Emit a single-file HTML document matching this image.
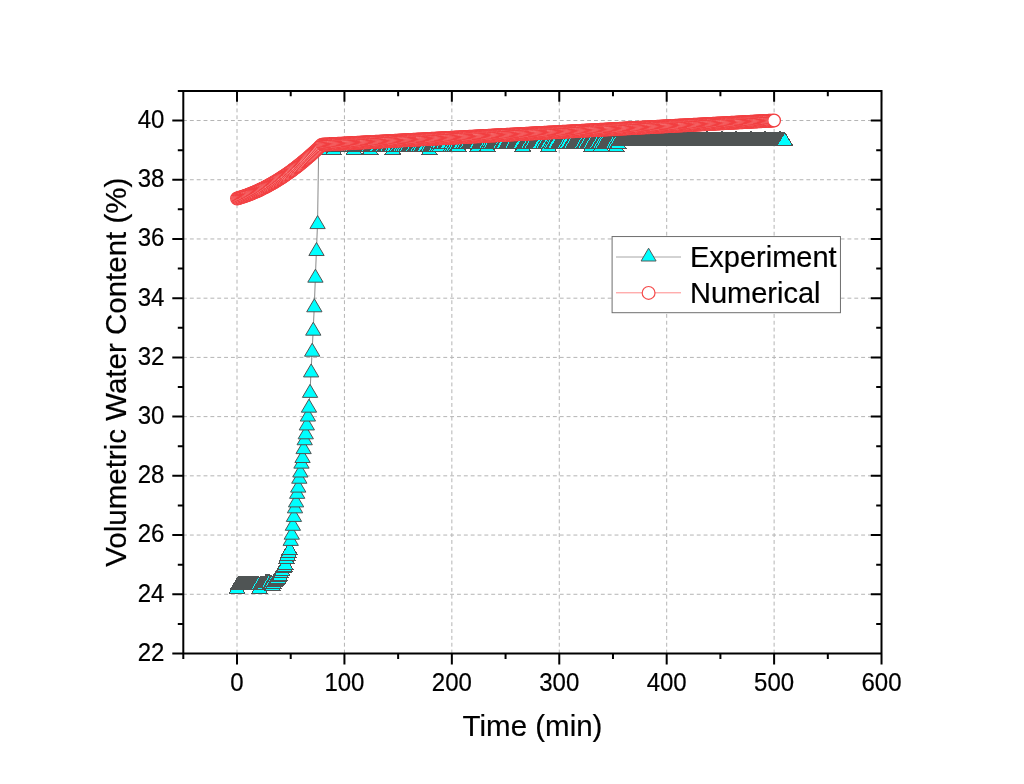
<!DOCTYPE html><html><head><meta charset="utf-8"><style>html,body{margin:0;padding:0;background:#fff;overflow:hidden}svg{display:block;will-change:transform}text{font-family:"Liberation Sans",sans-serif;fill:#000;stroke:#000;stroke-width:0.2px}</style></head><body>
<svg width="1024" height="784" viewBox="0 0 1024 784">
<rect width="1024" height="784" fill="#fff"/>
<path d="M237.01 653.5V92M344.43 653.5V92M451.85 653.5V92M559.27 653.5V92M666.69 653.5V92M774.11 653.5V92" stroke="#b4b4b4" stroke-width="1" stroke-dasharray="3.9 2.95" fill="none"/>
<path d="M183 594.28H881M183 535.06H881M183 475.84H881M183 416.62H881M183 357.4H881M183 298.18H881M183 238.96H881M183 179.74H881M183 120.52H881" stroke="#b4b4b4" stroke-width="1" stroke-dasharray="3.9 2.95" fill="none"/>
<polyline points="237.01,586.58 238.08,583.03 239.16,583.03 240.23,583.03 241.31,583.03 242.38,583.03 243.46,583.03 244.53,583.03 245.6,583.03 246.68,583.03 247.75,583.03 248.83,583.03 249.9,583.03 250.97,583.03 252.05,583.03 253.12,583.03 254.2,583.03 255.27,583.03 256.35,583.03 257.42,583.03 258.49,583.03 259.57,586.58 260.64,583.03 261.72,583.03 262.79,583.03 263.87,583.03 264.94,583.03 266.01,580.66 267.09,580.66 268.16,580.66 269.24,580.66 270.31,582.44 271.38,582.44 272.46,583.62 273.53,581.84 274.61,580.07 275.68,578.88 276.76,577.7 277.83,576.51 278.9,575.33 279.98,574.44 281.05,571.48 282.13,568.82 283.2,565.85 284.27,564.67 285.35,562.89 286.42,556.68 287.5,553.71 288.57,550.75 289.65,548.09 290.72,538.91 291.79,532.69 292.87,523.81 293.94,514.93 295.02,506.34 296.09,500.42 297.17,491.83 298.24,485.61 299.31,476.73 300.39,470.51 301.46,461.63 302.54,456 303.61,447.12 304.68,438.24 305.76,432.31 306.83,423.43 307.91,414.55 308.98,405.66 310.06,390.86 311.13,370.43 312.2,349.7 313.28,328.68 314.35,305.29 315.43,275.68 316.5,249.03 317.58,222.08 318.65,147.79 319.72,147.79 320.8,147.79 321.87,144.68 322.95,144.68 324.02,144.68 325.09,144.68 326.17,144.68 327.24,144.68 328.32,144.68 329.39,144.68 331.54,144.68 332.61,144.68 333.69,147.79 335.84,144.68 337.98,144.68 339.06,144.68 341.21,144.68 342.28,144.68 343.36,144.68 344.43,144.68 347.65,144.68 350.88,144.68 353.02,144.68 354.1,147.79 355.17,144.68 356.25,144.68 357.32,144.68 358.39,144.68 359.47,144.68 360.54,144.68 361.62,144.68 362.69,144.68 363.77,144.68 364.84,144.68 365.91,144.68 366.99,144.68 368.06,144.68 369.14,144.68 370.21,147.79 371.29,144.68 372.36,144.68 373.43,144.68 374.51,144.68 375.58,144.68 376.66,144.68 379.88,144.68 380.95,144.68 382.03,144.68 383.1,144.68 385.25,144.68 386.32,144.68 387.4,144.68 389.55,144.68 390.62,144.68 391.69,144.68 392.77,147.79 393.84,144.68 397.07,144.68 399.21,144.68 400.29,144.68 402.44,144.68 404.59,144.68 406.73,144.68 408.88,144.68 409.96,144.68 411.03,144.68 412.1,144.68 413.18,144.68 415.33,144.68 416.4,144.68 417.48,144.68 419.62,144.68 421.77,144.68 422.85,144.68 423.92,144.68 425,144.68 428.22,144.68 429.29,147.79 430.37,144.68 431.44,144.68 432.51,144.68 433.59,144.68 434.66,144.68 435.74,144.68 437.89,144.68 438.96,142.08 440.03,144.68 442.18,142.08 443.26,142.08 445.4,142.08 446.48,142.08 447.55,142.08 450.78,144.68 451.85,142.08 452.92,144.68 455.07,144.68 457.22,144.68 458.3,144.68 459.37,142.08 460.44,142.08 463.67,142.08 465.81,142.08 466.89,142.08 469.04,142.08 470.11,142.08 471.19,142.08 472.26,142.08 473.33,142.08 474.41,142.08 475.48,142.08 476.56,142.08 477.63,144.68 479.78,142.08 480.85,142.08 481.93,142.08 483,142.08 484.08,142.08 485.15,142.08 486.22,142.08 487.3,144.68 488.37,142.08 490.52,142.08 492.67,142.08 493.74,142.08 494.82,142.08 495.89,142.08 496.97,142.08 498.04,142.08 499.11,142.08 500.19,142.08 502.34,142.08 503.41,142.08 506.63,142.08 507.71,142.08 508.78,142.08 509.86,142.08 510.93,142.08 512.01,142.08 514.15,142.08 515.23,142.08 516.3,142.08 517.38,142.08 518.45,142.08 519.52,142.08 520.6,142.08 522.75,144.68 523.82,142.08 524.9,142.08 525.97,142.08 527.04,142.08 528.12,142.08 530.27,142.08 531.34,142.08 533.49,142.08 534.56,142.08 535.64,142.08 536.71,142.08 537.79,142.08 538.86,142.08 539.93,142.08 543.16,142.08 545.31,142.08 546.38,142.08 547.45,142.08 548.53,144.68 551.75,142.08 553.9,142.08 554.97,142.08 558.2,142.08 559.27,142.08 560.34,142.08 561.42,142.08 562.49,142.08 563.57,142.08 564.64,142.08 566.79,142.08 570.01,142.08 571.09,142.08 573.23,142.08 574.31,142.08 575.38,142.08 576.46,142.08 577.53,142.08 578.61,142.08 579.68,142.08 580.75,142.08 581.83,142.08 583.98,142.08 585.05,142.08 587.2,142.08 588.27,142.08 589.35,142.08 590.42,142.08 591.5,144.68 592.57,142.08 593.64,142.08 594.72,142.08 595.79,142.08 596.87,142.08 599.02,142.08 600.09,142.08 601.16,144.68 602.24,142.08 604.39,142.08 605.46,142.08 606.53,142.08 607.61,142.08 608.68,142.08 609.76,142.08 610.83,142.08 611.91,142.08 612.98,142.08 615.13,142.08 616.2,144.68 617.28,142.08 618.35,142.08 619.43,138.88 620.5,138.88 621.57,138.88 622.65,138.88 623.72,138.88 624.8,138.88 625.87,138.88 626.94,138.88 628.02,138.88 629.09,138.88 630.17,138.88 631.24,138.88 632.32,138.88 633.39,138.88 634.46,138.88 635.54,138.88 636.61,138.88 637.69,138.88 638.76,138.88 639.84,138.88 640.91,138.88 641.98,138.88 643.06,138.88 644.13,138.88 645.21,138.88 646.28,138.88 647.35,138.88 648.43,138.88 649.5,138.88 650.58,138.88 651.65,138.88 652.73,138.88 653.8,138.88 654.87,138.88 655.95,138.88 657.02,138.88 658.1,138.88 659.17,138.88 660.24,138.88 661.32,138.88 662.39,138.88 663.47,138.88 664.54,138.88 665.62,138.88 666.69,138.88 667.76,138.88 668.84,138.88 669.91,138.88 670.99,138.88 672.06,138.88 673.14,138.88 674.21,138.88 675.28,138.88 676.36,138.88 677.43,138.88 678.51,138.88 679.58,138.88 680.65,138.88 681.73,138.88 682.8,138.88 683.88,138.88 684.95,138.88 686.03,138.88 687.1,138.88 688.17,138.88 689.25,138.88 690.32,138.88 691.4,138.88 692.47,138.88 693.55,138.88 694.62,138.88 695.69,138.88 696.77,138.88 697.84,138.88 698.92,138.88 699.99,138.88 701.06,138.88 702.14,138.88 703.21,138.88 704.29,138.88 705.36,138.88 706.44,138.88 707.51,138.88 708.58,138.88 709.66,138.88 710.73,138.88 711.81,138.88 712.88,138.88 713.95,138.88 715.03,138.88 716.1,138.88 717.18,138.88 718.25,138.88 719.33,138.88 720.4,138.88 721.47,138.88 722.55,138.88 723.62,138.88 724.7,138.88 725.77,138.88 726.85,138.88 727.92,138.88 728.99,138.88 730.07,138.88 731.14,138.88 732.22,138.88 733.29,138.88 734.36,138.88 735.44,138.88 736.51,138.88 737.59,138.88 738.66,138.88 739.74,138.88 740.81,138.88 741.88,138.88 742.96,138.88 744.03,138.88 745.11,138.88 746.18,138.88 747.26,138.88 748.33,138.88 749.4,138.88 750.48,138.88 751.55,138.88 752.63,138.88 753.7,138.88 754.77,138.88 755.85,138.88 756.92,138.88 758,138.88 759.07,138.88 760.15,138.88 761.22,138.88 762.29,138.88 763.37,138.88 764.44,138.88 765.52,138.88 766.59,138.88 767.66,138.88 768.74,138.88 769.81,138.88 770.89,138.88 771.96,138.88 773.04,138.88 774.11,138.88 775.18,138.88 776.26,138.88 777.33,138.88 778.41,138.88 779.48,138.88 780.56,138.88 781.63,138.88 782.7,138.88 783.78,138.88 784.85,138.88" fill="none" stroke="#7c7c7c" stroke-width="0.9"/>
<g fill="#00ffff" stroke="#4f5454" stroke-width="1" shape-rendering="crispEdges"><path d="M237.01 580.08L244.66 593.08L229.36 593.08Z"/><path d="M238.08 576.53L245.73 589.53L230.43 589.53Z"/><path d="M239.16 576.53L246.81 589.53L231.51 589.53Z"/><path d="M240.23 576.53L247.88 589.53L232.58 589.53Z"/><path d="M241.31 576.53L248.96 589.53L233.66 589.53Z"/><path d="M242.38 576.53L250.03 589.53L234.73 589.53Z"/><path d="M243.46 576.53L251.11 589.53L235.81 589.53Z"/><path d="M244.53 576.53L252.18 589.53L236.88 589.53Z"/><path d="M245.6 576.53L253.25 589.53L237.95 589.53Z"/><path d="M246.68 576.53L254.33 589.53L239.03 589.53Z"/><path d="M247.75 576.53L255.4 589.53L240.1 589.53Z"/><path d="M248.83 576.53L256.48 589.53L241.18 589.53Z"/><path d="M249.9 576.53L257.55 589.53L242.25 589.53Z"/><path d="M250.97 576.53L258.62 589.53L243.32 589.53Z"/><path d="M252.05 576.53L259.7 589.53L244.4 589.53Z"/><path d="M253.12 576.53L260.77 589.53L245.47 589.53Z"/><path d="M254.2 576.53L261.85 589.53L246.55 589.53Z"/><path d="M255.27 576.53L262.92 589.53L247.62 589.53Z"/><path d="M256.35 576.53L264 589.53L248.7 589.53Z"/><path d="M257.42 576.53L265.07 589.53L249.77 589.53Z"/><path d="M258.49 576.53L266.14 589.53L250.84 589.53Z"/><path d="M259.57 580.08L267.22 593.08L251.92 593.08Z"/><path d="M260.64 576.53L268.29 589.53L252.99 589.53Z"/><path d="M261.72 576.53L269.37 589.53L254.07 589.53Z"/><path d="M262.79 576.53L270.44 589.53L255.14 589.53Z"/><path d="M263.87 576.53L271.51 589.53L256.22 589.53Z"/><path d="M264.94 576.53L272.59 589.53L257.29 589.53Z"/><path d="M266.01 574.16L273.66 587.16L258.36 587.16Z"/><path d="M267.09 574.16L274.74 587.16L259.44 587.16Z"/><path d="M268.16 574.16L275.81 587.16L260.51 587.16Z"/><path d="M269.24 574.16L276.89 587.16L261.59 587.16Z"/><path d="M270.31 575.94L277.96 588.94L262.66 588.94Z"/><path d="M271.38 575.94L279.03 588.94L263.73 588.94Z"/><path d="M272.46 577.12L280.11 590.12L264.81 590.12Z"/><path d="M273.53 575.34L281.18 588.34L265.88 588.34Z"/><path d="M274.61 573.57L282.26 586.57L266.96 586.57Z"/><path d="M275.68 572.38L283.33 585.38L268.03 585.38Z"/><path d="M276.76 571.2L284.41 584.2L269.11 584.2Z"/><path d="M277.83 570.01L285.48 583.01L270.18 583.01Z"/><path d="M278.9 568.83L286.55 581.83L271.25 581.83Z"/><path d="M279.98 567.94L287.63 580.94L272.33 580.94Z"/><path d="M281.05 564.98L288.7 577.98L273.4 577.98Z"/><path d="M282.13 562.32L289.78 575.32L274.48 575.32Z"/><path d="M283.2 559.35L290.85 572.35L275.55 572.35Z"/><path d="M284.27 558.17L291.92 571.17L276.62 571.17Z"/><path d="M285.35 556.39L293 569.39L277.7 569.39Z"/><path d="M286.42 550.18L294.07 563.18L278.77 563.18Z"/><path d="M287.5 547.21L295.15 560.21L279.85 560.21Z"/><path d="M288.57 544.25L296.22 557.25L280.92 557.25Z"/><path d="M289.65 541.59L297.3 554.59L282 554.59Z"/></g>
<g fill="#00ffff" stroke="#4f5454" stroke-width="1"><path d="M290.72 532.41L298.37 545.41L283.07 545.41Z"/><path d="M291.79 526.19L299.44 539.19L284.14 539.19Z"/><path d="M292.87 517.31L300.52 530.31L285.22 530.31Z"/><path d="M293.94 508.43L301.59 521.43L286.29 521.43Z"/><path d="M295.02 499.84L302.67 512.84L287.37 512.84Z"/><path d="M296.09 493.92L303.74 506.92L288.44 506.92Z"/><path d="M297.17 485.33L304.82 498.33L289.52 498.33Z"/><path d="M298.24 479.11L305.89 492.11L290.59 492.11Z"/><path d="M299.31 470.23L306.96 483.23L291.66 483.23Z"/><path d="M300.39 464.01L308.04 477.01L292.74 477.01Z"/><path d="M301.46 455.13L309.11 468.13L293.81 468.13Z"/><path d="M302.54 449.5L310.19 462.5L294.89 462.5Z"/><path d="M303.61 440.62L311.26 453.62L295.96 453.62Z"/><path d="M304.68 431.74L312.33 444.74L297.03 444.74Z"/><path d="M305.76 425.81L313.41 438.81L298.11 438.81Z"/><path d="M306.83 416.93L314.48 429.93L299.18 429.93Z"/><path d="M307.91 408.05L315.56 421.05L300.26 421.05Z"/><path d="M308.98 399.16L316.63 412.16L301.33 412.16Z"/><path d="M310.06 384.36L317.71 397.36L302.41 397.36Z"/><path d="M311.13 363.93L318.78 376.93L303.48 376.93Z"/><path d="M312.2 343.2L319.85 356.2L304.55 356.2Z"/><path d="M313.28 322.18L320.93 335.18L305.63 335.18Z"/><path d="M314.35 298.79L322 311.79L306.7 311.79Z"/><path d="M315.43 269.18L323.08 282.18L307.78 282.18Z"/><path d="M316.5 242.53L324.15 255.53L308.85 255.53Z"/><path d="M317.58 215.58L325.23 228.58L309.93 228.58Z"/></g>
<g fill="#00ffff" stroke="#4f5454" stroke-width="1" shape-rendering="crispEdges"><path d="M318.65 141.29L326.3 154.29L311 154.29Z"/><path d="M319.72 141.29L327.37 154.29L312.07 154.29Z"/><path d="M320.8 141.29L328.45 154.29L313.15 154.29Z"/><path d="M321.87 138.18L329.52 151.18L314.22 151.18Z"/><path d="M322.95 138.18L330.6 151.18L315.3 151.18Z"/><path d="M324.02 138.18L331.67 151.18L316.37 151.18Z"/><path d="M325.09 138.18L332.74 151.18L317.44 151.18Z"/><path d="M326.17 138.18L333.82 151.18L318.52 151.18Z"/><path d="M327.24 138.18L334.89 151.18L319.59 151.18Z"/><path d="M328.32 138.18L335.97 151.18L320.67 151.18Z"/><path d="M329.39 138.18L337.04 151.18L321.74 151.18Z"/><path d="M331.54 138.18L339.19 151.18L323.89 151.18Z"/><path d="M332.61 138.18L340.26 151.18L324.96 151.18Z"/><path d="M333.69 141.29L341.34 154.29L326.04 154.29Z"/><path d="M335.84 138.18L343.49 151.18L328.19 151.18Z"/><path d="M337.98 138.18L345.63 151.18L330.33 151.18Z"/><path d="M339.06 138.18L346.71 151.18L331.41 151.18Z"/><path d="M341.21 138.18L348.86 151.18L333.56 151.18Z"/><path d="M342.28 138.18L349.93 151.18L334.63 151.18Z"/><path d="M343.36 138.18L351.01 151.18L335.71 151.18Z"/><path d="M344.43 138.18L352.08 151.18L336.78 151.18Z"/><path d="M347.65 138.18L355.3 151.18L340 151.18Z"/><path d="M350.88 138.18L358.53 151.18L343.23 151.18Z"/><path d="M353.02 138.18L360.67 151.18L345.37 151.18Z"/><path d="M354.1 141.29L361.75 154.29L346.45 154.29Z"/><path d="M355.17 138.18L362.82 151.18L347.52 151.18Z"/><path d="M356.25 138.18L363.9 151.18L348.6 151.18Z"/><path d="M357.32 138.18L364.97 151.18L349.67 151.18Z"/><path d="M358.39 138.18L366.04 151.18L350.74 151.18Z"/><path d="M359.47 138.18L367.12 151.18L351.82 151.18Z"/><path d="M360.54 138.18L368.19 151.18L352.89 151.18Z"/><path d="M361.62 138.18L369.27 151.18L353.97 151.18Z"/><path d="M362.69 138.18L370.34 151.18L355.04 151.18Z"/><path d="M363.77 138.18L371.42 151.18L356.12 151.18Z"/><path d="M364.84 138.18L372.49 151.18L357.19 151.18Z"/><path d="M365.91 138.18L373.56 151.18L358.26 151.18Z"/><path d="M366.99 138.18L374.64 151.18L359.34 151.18Z"/><path d="M368.06 138.18L375.71 151.18L360.41 151.18Z"/><path d="M369.14 138.18L376.79 151.18L361.49 151.18Z"/><path d="M370.21 141.29L377.86 154.29L362.56 154.29Z"/><path d="M371.29 138.18L378.94 151.18L363.64 151.18Z"/><path d="M372.36 138.18L380.01 151.18L364.71 151.18Z"/><path d="M373.43 138.18L381.08 151.18L365.78 151.18Z"/><path d="M374.51 138.18L382.16 151.18L366.86 151.18Z"/><path d="M375.58 138.18L383.23 151.18L367.93 151.18Z"/><path d="M376.66 138.18L384.31 151.18L369.01 151.18Z"/><path d="M379.88 138.18L387.53 151.18L372.23 151.18Z"/><path d="M380.95 138.18L388.6 151.18L373.3 151.18Z"/><path d="M382.03 138.18L389.68 151.18L374.38 151.18Z"/><path d="M383.1 138.18L390.75 151.18L375.45 151.18Z"/><path d="M385.25 138.18L392.9 151.18L377.6 151.18Z"/><path d="M386.32 138.18L393.97 151.18L378.67 151.18Z"/><path d="M387.4 138.18L395.05 151.18L379.75 151.18Z"/><path d="M389.55 138.18L397.2 151.18L381.9 151.18Z"/><path d="M390.62 138.18L398.27 151.18L382.97 151.18Z"/><path d="M391.69 138.18L399.34 151.18L384.04 151.18Z"/><path d="M392.77 141.29L400.42 154.29L385.12 154.29Z"/><path d="M393.84 138.18L401.49 151.18L386.19 151.18Z"/><path d="M397.07 138.18L404.72 151.18L389.42 151.18Z"/><path d="M399.21 138.18L406.86 151.18L391.56 151.18Z"/><path d="M400.29 138.18L407.94 151.18L392.64 151.18Z"/><path d="M402.44 138.18L410.09 151.18L394.79 151.18Z"/><path d="M404.59 138.18L412.24 151.18L396.94 151.18Z"/><path d="M406.73 138.18L414.38 151.18L399.08 151.18Z"/><path d="M408.88 138.18L416.53 151.18L401.23 151.18Z"/><path d="M409.96 138.18L417.61 151.18L402.31 151.18Z"/><path d="M411.03 138.18L418.68 151.18L403.38 151.18Z"/><path d="M412.1 138.18L419.75 151.18L404.45 151.18Z"/><path d="M413.18 138.18L420.83 151.18L405.53 151.18Z"/><path d="M415.33 138.18L422.98 151.18L407.68 151.18Z"/><path d="M416.4 138.18L424.05 151.18L408.75 151.18Z"/><path d="M417.48 138.18L425.13 151.18L409.83 151.18Z"/><path d="M419.62 138.18L427.27 151.18L411.97 151.18Z"/><path d="M421.77 138.18L429.42 151.18L414.12 151.18Z"/><path d="M422.85 138.18L430.5 151.18L415.2 151.18Z"/><path d="M423.92 138.18L431.57 151.18L416.27 151.18Z"/><path d="M425 138.18L432.64 151.18L417.35 151.18Z"/><path d="M428.22 138.18L435.87 151.18L420.57 151.18Z"/><path d="M429.29 141.29L436.94 154.29L421.64 154.29Z"/><path d="M430.37 138.18L438.02 151.18L422.72 151.18Z"/><path d="M431.44 138.18L439.09 151.18L423.79 151.18Z"/><path d="M432.51 138.18L440.16 151.18L424.86 151.18Z"/><path d="M433.59 138.18L441.24 151.18L425.94 151.18Z"/><path d="M434.66 138.18L442.31 151.18L427.01 151.18Z"/><path d="M435.74 138.18L443.39 151.18L428.09 151.18Z"/><path d="M437.89 138.18L445.54 151.18L430.24 151.18Z"/><path d="M438.96 135.58L446.61 148.58L431.31 148.58Z"/><path d="M440.03 138.18L447.68 151.18L432.38 151.18Z"/><path d="M442.18 135.58L449.83 148.58L434.53 148.58Z"/><path d="M443.26 135.58L450.91 148.58L435.61 148.58Z"/><path d="M445.4 135.58L453.05 148.58L437.75 148.58Z"/><path d="M446.48 135.58L454.13 148.58L438.83 148.58Z"/><path d="M447.55 135.58L455.2 148.58L439.9 148.58Z"/><path d="M450.78 138.18L458.43 151.18L443.13 151.18Z"/><path d="M451.85 135.58L459.5 148.58L444.2 148.58Z"/><path d="M452.92 138.18L460.57 151.18L445.27 151.18Z"/><path d="M455.07 138.18L462.72 151.18L447.42 151.18Z"/><path d="M457.22 138.18L464.87 151.18L449.57 151.18Z"/><path d="M458.3 138.18L465.95 151.18L450.65 151.18Z"/><path d="M459.37 135.58L467.02 148.58L451.72 148.58Z"/><path d="M460.44 135.58L468.09 148.58L452.79 148.58Z"/><path d="M463.67 135.58L471.32 148.58L456.02 148.58Z"/><path d="M465.81 135.58L473.46 148.58L458.16 148.58Z"/><path d="M466.89 135.58L474.54 148.58L459.24 148.58Z"/><path d="M469.04 135.58L476.69 148.58L461.39 148.58Z"/><path d="M470.11 135.58L477.76 148.58L462.46 148.58Z"/><path d="M471.19 135.58L478.84 148.58L463.54 148.58Z"/><path d="M472.26 135.58L479.91 148.58L464.61 148.58Z"/><path d="M473.33 135.58L480.98 148.58L465.68 148.58Z"/><path d="M474.41 135.58L482.06 148.58L466.76 148.58Z"/><path d="M475.48 135.58L483.13 148.58L467.83 148.58Z"/><path d="M476.56 135.58L484.21 148.58L468.91 148.58Z"/><path d="M477.63 138.18L485.28 151.18L469.98 151.18Z"/><path d="M479.78 135.58L487.43 148.58L472.13 148.58Z"/><path d="M480.85 135.58L488.5 148.58L473.2 148.58Z"/><path d="M481.93 135.58L489.58 148.58L474.28 148.58Z"/><path d="M483 135.58L490.65 148.58L475.35 148.58Z"/><path d="M484.08 135.58L491.73 148.58L476.43 148.58Z"/><path d="M485.15 135.58L492.8 148.58L477.5 148.58Z"/><path d="M486.22 135.58L493.87 148.58L478.57 148.58Z"/><path d="M487.3 138.18L494.95 151.18L479.65 151.18Z"/><path d="M488.37 135.58L496.02 148.58L480.72 148.58Z"/><path d="M490.52 135.58L498.17 148.58L482.87 148.58Z"/><path d="M492.67 135.58L500.32 148.58L485.02 148.58Z"/><path d="M493.74 135.58L501.39 148.58L486.09 148.58Z"/><path d="M494.82 135.58L502.47 148.58L487.17 148.58Z"/><path d="M495.89 135.58L503.54 148.58L488.24 148.58Z"/><path d="M496.97 135.58L504.62 148.58L489.32 148.58Z"/><path d="M498.04 135.58L505.69 148.58L490.39 148.58Z"/><path d="M499.11 135.58L506.76 148.58L491.46 148.58Z"/><path d="M500.19 135.58L507.84 148.58L492.54 148.58Z"/><path d="M502.34 135.58L509.99 148.58L494.69 148.58Z"/><path d="M503.41 135.58L511.06 148.58L495.76 148.58Z"/><path d="M506.63 135.58L514.28 148.58L498.98 148.58Z"/><path d="M507.71 135.58L515.36 148.58L500.06 148.58Z"/><path d="M508.78 135.58L516.43 148.58L501.13 148.58Z"/><path d="M509.86 135.58L517.51 148.58L502.21 148.58Z"/><path d="M510.93 135.58L518.58 148.58L503.28 148.58Z"/><path d="M512.01 135.58L519.66 148.58L504.36 148.58Z"/><path d="M514.15 135.58L521.8 148.58L506.5 148.58Z"/><path d="M515.23 135.58L522.88 148.58L507.58 148.58Z"/><path d="M516.3 135.58L523.95 148.58L508.65 148.58Z"/><path d="M517.38 135.58L525.03 148.58L509.73 148.58Z"/><path d="M518.45 135.58L526.1 148.58L510.8 148.58Z"/><path d="M519.52 135.58L527.17 148.58L511.87 148.58Z"/><path d="M520.6 135.58L528.25 148.58L512.95 148.58Z"/><path d="M522.75 138.18L530.4 151.18L515.1 151.18Z"/><path d="M523.82 135.58L531.47 148.58L516.17 148.58Z"/><path d="M524.9 135.58L532.55 148.58L517.25 148.58Z"/><path d="M525.97 135.58L533.62 148.58L518.32 148.58Z"/><path d="M527.04 135.58L534.69 148.58L519.39 148.58Z"/><path d="M528.12 135.58L535.77 148.58L520.47 148.58Z"/><path d="M530.27 135.58L537.92 148.58L522.62 148.58Z"/><path d="M531.34 135.58L538.99 148.58L523.69 148.58Z"/><path d="M533.49 135.58L541.14 148.58L525.84 148.58Z"/><path d="M534.56 135.58L542.21 148.58L526.91 148.58Z"/><path d="M535.64 135.58L543.29 148.58L527.99 148.58Z"/><path d="M536.71 135.58L544.36 148.58L529.06 148.58Z"/><path d="M537.79 135.58L545.44 148.58L530.14 148.58Z"/><path d="M538.86 135.58L546.51 148.58L531.21 148.58Z"/><path d="M539.93 135.58L547.58 148.58L532.28 148.58Z"/><path d="M543.16 135.58L550.81 148.58L535.51 148.58Z"/><path d="M545.31 135.58L552.96 148.58L537.66 148.58Z"/><path d="M546.38 135.58L554.03 148.58L538.73 148.58Z"/><path d="M547.45 135.58L555.1 148.58L539.8 148.58Z"/><path d="M548.53 138.18L556.18 151.18L540.88 151.18Z"/><path d="M551.75 135.58L559.4 148.58L544.1 148.58Z"/><path d="M553.9 135.58L561.55 148.58L546.25 148.58Z"/><path d="M554.97 135.58L562.62 148.58L547.32 148.58Z"/><path d="M558.2 135.58L565.85 148.58L550.55 148.58Z"/><path d="M559.27 135.58L566.92 148.58L551.62 148.58Z"/><path d="M560.34 135.58L567.99 148.58L552.69 148.58Z"/><path d="M561.42 135.58L569.07 148.58L553.77 148.58Z"/><path d="M562.49 135.58L570.14 148.58L554.84 148.58Z"/><path d="M563.57 135.58L571.22 148.58L555.92 148.58Z"/><path d="M564.64 135.58L572.29 148.58L556.99 148.58Z"/><path d="M566.79 135.58L574.44 148.58L559.14 148.58Z"/><path d="M570.01 135.58L577.66 148.58L562.36 148.58Z"/><path d="M571.09 135.58L578.74 148.58L563.44 148.58Z"/><path d="M573.23 135.58L580.88 148.58L565.58 148.58Z"/><path d="M574.31 135.58L581.96 148.58L566.66 148.58Z"/><path d="M575.38 135.58L583.03 148.58L567.73 148.58Z"/><path d="M576.46 135.58L584.11 148.58L568.81 148.58Z"/><path d="M577.53 135.58L585.18 148.58L569.88 148.58Z"/><path d="M578.61 135.58L586.26 148.58L570.96 148.58Z"/><path d="M579.68 135.58L587.33 148.58L572.03 148.58Z"/><path d="M580.75 135.58L588.4 148.58L573.1 148.58Z"/><path d="M581.83 135.58L589.48 148.58L574.18 148.58Z"/><path d="M583.98 135.58L591.63 148.58L576.33 148.58Z"/><path d="M585.05 135.58L592.7 148.58L577.4 148.58Z"/><path d="M587.2 135.58L594.85 148.58L579.55 148.58Z"/><path d="M588.27 135.58L595.92 148.58L580.62 148.58Z"/><path d="M589.35 135.58L597 148.58L581.7 148.58Z"/><path d="M590.42 135.58L598.07 148.58L582.77 148.58Z"/><path d="M591.5 138.18L599.15 151.18L583.85 151.18Z"/><path d="M592.57 135.58L600.22 148.58L584.92 148.58Z"/><path d="M593.64 135.58L601.29 148.58L585.99 148.58Z"/><path d="M594.72 135.58L602.37 148.58L587.07 148.58Z"/><path d="M595.79 135.58L603.44 148.58L588.14 148.58Z"/><path d="M596.87 135.58L604.52 148.58L589.22 148.58Z"/><path d="M599.02 135.58L606.67 148.58L591.37 148.58Z"/><path d="M600.09 135.58L607.74 148.58L592.44 148.58Z"/><path d="M601.16 138.18L608.81 151.18L593.51 151.18Z"/><path d="M602.24 135.58L609.89 148.58L594.59 148.58Z"/><path d="M604.39 135.58L612.04 148.58L596.74 148.58Z"/><path d="M605.46 135.58L613.11 148.58L597.81 148.58Z"/><path d="M606.53 135.58L614.18 148.58L598.88 148.58Z"/><path d="M607.61 135.58L615.26 148.58L599.96 148.58Z"/><path d="M608.68 135.58L616.33 148.58L601.03 148.58Z"/><path d="M609.76 135.58L617.41 148.58L602.11 148.58Z"/><path d="M610.83 135.58L618.48 148.58L603.18 148.58Z"/><path d="M611.91 135.58L619.56 148.58L604.26 148.58Z"/><path d="M612.98 135.58L620.63 148.58L605.33 148.58Z"/><path d="M615.13 135.58L622.78 148.58L607.48 148.58Z"/><path d="M616.2 138.18L623.85 151.18L608.55 151.18Z"/><path d="M617.28 135.58L624.93 148.58L609.63 148.58Z"/><path d="M618.35 135.58L626 148.58L610.7 148.58Z"/><path d="M619.43 132.38L627.08 145.38L611.78 145.38Z"/><path d="M620.5 132.38L628.15 145.38L612.85 145.38Z"/><path d="M621.57 132.38L629.22 145.38L613.92 145.38Z"/><path d="M622.65 132.38L630.3 145.38L615 145.38Z"/><path d="M623.72 132.38L631.37 145.38L616.07 145.38Z"/><path d="M624.8 132.38L632.45 145.38L617.15 145.38Z"/><path d="M625.87 132.38L633.52 145.38L618.22 145.38Z"/><path d="M626.94 132.38L634.59 145.38L619.29 145.38Z"/><path d="M628.02 132.38L635.67 145.38L620.37 145.38Z"/><path d="M629.09 132.38L636.74 145.38L621.44 145.38Z"/><path d="M630.17 132.38L637.82 145.38L622.52 145.38Z"/><path d="M631.24 132.38L638.89 145.38L623.59 145.38Z"/><path d="M632.32 132.38L639.97 145.38L624.67 145.38Z"/><path d="M633.39 132.38L641.04 145.38L625.74 145.38Z"/><path d="M634.46 132.38L642.11 145.38L626.81 145.38Z"/><path d="M635.54 132.38L643.19 145.38L627.89 145.38Z"/><path d="M636.61 132.38L644.26 145.38L628.96 145.38Z"/><path d="M637.69 132.38L645.34 145.38L630.04 145.38Z"/><path d="M638.76 132.38L646.41 145.38L631.11 145.38Z"/><path d="M639.84 132.38L647.49 145.38L632.19 145.38Z"/><path d="M640.91 132.38L648.56 145.38L633.26 145.38Z"/><path d="M641.98 132.38L649.63 145.38L634.33 145.38Z"/><path d="M643.06 132.38L650.71 145.38L635.41 145.38Z"/><path d="M644.13 132.38L651.78 145.38L636.48 145.38Z"/><path d="M645.21 132.38L652.86 145.38L637.56 145.38Z"/><path d="M646.28 132.38L653.93 145.38L638.63 145.38Z"/><path d="M647.35 132.38L655 145.38L639.7 145.38Z"/><path d="M648.43 132.38L656.08 145.38L640.78 145.38Z"/><path d="M649.5 132.38L657.15 145.38L641.85 145.38Z"/><path d="M650.58 132.38L658.23 145.38L642.93 145.38Z"/><path d="M651.65 132.38L659.3 145.38L644 145.38Z"/><path d="M652.73 132.38L660.38 145.38L645.08 145.38Z"/><path d="M653.8 132.38L661.45 145.38L646.15 145.38Z"/><path d="M654.87 132.38L662.52 145.38L647.22 145.38Z"/><path d="M655.95 132.38L663.6 145.38L648.3 145.38Z"/><path d="M657.02 132.38L664.67 145.38L649.37 145.38Z"/><path d="M658.1 132.38L665.75 145.38L650.45 145.38Z"/><path d="M659.17 132.38L666.82 145.38L651.52 145.38Z"/><path d="M660.24 132.38L667.89 145.38L652.59 145.38Z"/><path d="M661.32 132.38L668.97 145.38L653.67 145.38Z"/><path d="M662.39 132.38L670.04 145.38L654.74 145.38Z"/><path d="M663.47 132.38L671.12 145.38L655.82 145.38Z"/><path d="M664.54 132.38L672.19 145.38L656.89 145.38Z"/><path d="M665.62 132.38L673.27 145.38L657.97 145.38Z"/><path d="M666.69 132.38L674.34 145.38L659.04 145.38Z"/><path d="M667.76 132.38L675.41 145.38L660.11 145.38Z"/><path d="M668.84 132.38L676.49 145.38L661.19 145.38Z"/><path d="M669.91 132.38L677.56 145.38L662.26 145.38Z"/><path d="M670.99 132.38L678.64 145.38L663.34 145.38Z"/><path d="M672.06 132.38L679.71 145.38L664.41 145.38Z"/><path d="M673.14 132.38L680.79 145.38L665.49 145.38Z"/><path d="M674.21 132.38L681.86 145.38L666.56 145.38Z"/><path d="M675.28 132.38L682.93 145.38L667.63 145.38Z"/><path d="M676.36 132.38L684.01 145.38L668.71 145.38Z"/><path d="M677.43 132.38L685.08 145.38L669.78 145.38Z"/><path d="M678.51 132.38L686.16 145.38L670.86 145.38Z"/><path d="M679.58 132.38L687.23 145.38L671.93 145.38Z"/><path d="M680.65 132.38L688.3 145.38L673 145.38Z"/><path d="M681.73 132.38L689.38 145.38L674.08 145.38Z"/><path d="M682.8 132.38L690.45 145.38L675.15 145.38Z"/><path d="M683.88 132.38L691.53 145.38L676.23 145.38Z"/><path d="M684.95 132.38L692.6 145.38L677.3 145.38Z"/><path d="M686.03 132.38L693.68 145.38L678.38 145.38Z"/><path d="M687.1 132.38L694.75 145.38L679.45 145.38Z"/><path d="M688.17 132.38L695.82 145.38L680.52 145.38Z"/><path d="M689.25 132.38L696.9 145.38L681.6 145.38Z"/><path d="M690.32 132.38L697.97 145.38L682.67 145.38Z"/><path d="M691.4 132.38L699.05 145.38L683.75 145.38Z"/><path d="M692.47 132.38L700.12 145.38L684.82 145.38Z"/><path d="M693.55 132.38L701.2 145.38L685.9 145.38Z"/><path d="M694.62 132.38L702.27 145.38L686.97 145.38Z"/><path d="M695.69 132.38L703.34 145.38L688.04 145.38Z"/><path d="M696.77 132.38L704.42 145.38L689.12 145.38Z"/><path d="M697.84 132.38L705.49 145.38L690.19 145.38Z"/><path d="M698.92 132.38L706.57 145.38L691.27 145.38Z"/><path d="M699.99 132.38L707.64 145.38L692.34 145.38Z"/><path d="M701.06 132.38L708.71 145.38L693.41 145.38Z"/><path d="M702.14 132.38L709.79 145.38L694.49 145.38Z"/><path d="M703.21 132.38L710.86 145.38L695.56 145.38Z"/><path d="M704.29 132.38L711.94 145.38L696.64 145.38Z"/><path d="M705.36 132.38L713.01 145.38L697.71 145.38Z"/><path d="M706.44 132.38L714.09 145.38L698.79 145.38Z"/><path d="M707.51 132.38L715.16 145.38L699.86 145.38Z"/><path d="M708.58 132.38L716.23 145.38L700.93 145.38Z"/><path d="M709.66 132.38L717.31 145.38L702.01 145.38Z"/><path d="M710.73 132.38L718.38 145.38L703.08 145.38Z"/><path d="M711.81 132.38L719.46 145.38L704.16 145.38Z"/><path d="M712.88 132.38L720.53 145.38L705.23 145.38Z"/><path d="M713.95 132.38L721.6 145.38L706.3 145.38Z"/><path d="M715.03 132.38L722.68 145.38L707.38 145.38Z"/><path d="M716.1 132.38L723.75 145.38L708.45 145.38Z"/><path d="M717.18 132.38L724.83 145.38L709.53 145.38Z"/><path d="M718.25 132.38L725.9 145.38L710.6 145.38Z"/><path d="M719.33 132.38L726.98 145.38L711.68 145.38Z"/><path d="M720.4 132.38L728.05 145.38L712.75 145.38Z"/><path d="M721.47 132.38L729.12 145.38L713.82 145.38Z"/><path d="M722.55 132.38L730.2 145.38L714.9 145.38Z"/><path d="M723.62 132.38L731.27 145.38L715.97 145.38Z"/><path d="M724.7 132.38L732.35 145.38L717.05 145.38Z"/><path d="M725.77 132.38L733.42 145.38L718.12 145.38Z"/><path d="M726.85 132.38L734.5 145.38L719.2 145.38Z"/><path d="M727.92 132.38L735.57 145.38L720.27 145.38Z"/><path d="M728.99 132.38L736.64 145.38L721.34 145.38Z"/><path d="M730.07 132.38L737.72 145.38L722.42 145.38Z"/><path d="M731.14 132.38L738.79 145.38L723.49 145.38Z"/><path d="M732.22 132.38L739.87 145.38L724.57 145.38Z"/><path d="M733.29 132.38L740.94 145.38L725.64 145.38Z"/><path d="M734.36 132.38L742.01 145.38L726.71 145.38Z"/><path d="M735.44 132.38L743.09 145.38L727.79 145.38Z"/><path d="M736.51 132.38L744.16 145.38L728.86 145.38Z"/><path d="M737.59 132.38L745.24 145.38L729.94 145.38Z"/><path d="M738.66 132.38L746.31 145.38L731.01 145.38Z"/><path d="M739.74 132.38L747.39 145.38L732.09 145.38Z"/><path d="M740.81 132.38L748.46 145.38L733.16 145.38Z"/><path d="M741.88 132.38L749.53 145.38L734.23 145.38Z"/><path d="M742.96 132.38L750.61 145.38L735.31 145.38Z"/><path d="M744.03 132.38L751.68 145.38L736.38 145.38Z"/><path d="M745.11 132.38L752.76 145.38L737.46 145.38Z"/><path d="M746.18 132.38L753.83 145.38L738.53 145.38Z"/><path d="M747.26 132.38L754.91 145.38L739.61 145.38Z"/><path d="M748.33 132.38L755.98 145.38L740.68 145.38Z"/><path d="M749.4 132.38L757.05 145.38L741.75 145.38Z"/><path d="M750.48 132.38L758.13 145.38L742.83 145.38Z"/><path d="M751.55 132.38L759.2 145.38L743.9 145.38Z"/><path d="M752.63 132.38L760.28 145.38L744.98 145.38Z"/><path d="M753.7 132.38L761.35 145.38L746.05 145.38Z"/><path d="M754.77 132.38L762.42 145.38L747.12 145.38Z"/><path d="M755.85 132.38L763.5 145.38L748.2 145.38Z"/><path d="M756.92 132.38L764.57 145.38L749.27 145.38Z"/><path d="M758 132.38L765.65 145.38L750.35 145.38Z"/><path d="M759.07 132.38L766.72 145.38L751.42 145.38Z"/><path d="M760.15 132.38L767.8 145.38L752.5 145.38Z"/><path d="M761.22 132.38L768.87 145.38L753.57 145.38Z"/><path d="M762.29 132.38L769.94 145.38L754.64 145.38Z"/><path d="M763.37 132.38L771.02 145.38L755.72 145.38Z"/><path d="M764.44 132.38L772.09 145.38L756.79 145.38Z"/><path d="M765.52 132.38L773.17 145.38L757.87 145.38Z"/><path d="M766.59 132.38L774.24 145.38L758.94 145.38Z"/><path d="M767.66 132.38L775.31 145.38L760.01 145.38Z"/><path d="M768.74 132.38L776.39 145.38L761.09 145.38Z"/><path d="M769.81 132.38L777.46 145.38L762.16 145.38Z"/><path d="M770.89 132.38L778.54 145.38L763.24 145.38Z"/><path d="M771.96 132.38L779.61 145.38L764.31 145.38Z"/><path d="M773.04 132.38L780.69 145.38L765.39 145.38Z"/><path d="M774.11 132.38L781.76 145.38L766.46 145.38Z"/><path d="M775.18 132.38L782.83 145.38L767.53 145.38Z"/><path d="M776.26 132.38L783.91 145.38L768.61 145.38Z"/><path d="M777.33 132.38L784.98 145.38L769.68 145.38Z"/><path d="M778.41 132.38L786.06 145.38L770.76 145.38Z"/><path d="M779.48 132.38L787.13 145.38L771.83 145.38Z"/><path d="M780.56 132.38L788.21 145.38L772.91 145.38Z"/><path d="M781.63 132.38L789.28 145.38L773.98 145.38Z"/><path d="M782.7 132.38L790.35 145.38L775.05 145.38Z"/><path d="M783.78 132.38L791.43 145.38L776.13 145.38Z"/><path d="M784.85 132.38L792.5 145.38L777.2 145.38Z"/></g>
<polyline points="237.01,198.51 238.08,198.2 239.16,197.88 240.23,197.55 241.31,197.21 242.38,196.86 243.46,196.51 244.53,196.14 245.6,195.76 246.68,195.37 247.75,194.98 248.83,194.57 249.9,194.16 250.97,193.73 252.05,193.3 253.12,192.85 254.2,192.4 255.27,191.94 256.35,191.47 257.42,190.98 258.49,190.49 259.57,189.99 260.64,189.48 261.72,188.96 262.79,188.43 263.87,187.89 264.94,187.35 266.01,186.79 267.09,186.22 268.16,185.64 269.24,185.06 270.31,184.46 271.38,183.86 272.46,183.24 273.53,182.62 274.61,181.98 275.68,181.34 276.76,180.69 277.83,180.02 278.9,179.35 279.98,178.67 281.05,177.98 282.13,177.28 283.2,176.57 284.27,175.85 285.35,175.12 286.42,174.38 287.5,173.63 288.57,172.88 289.65,172.11 290.72,171.33 291.79,170.55 292.87,169.75 293.94,168.95 295.02,168.13 296.09,167.31 297.17,166.47 298.24,165.63 299.31,164.78 300.39,163.92 301.46,163.04 302.54,162.16 303.61,161.27 304.68,160.37 305.76,159.46 306.83,158.54 307.91,157.61 308.98,156.68 310.06,155.73 311.13,154.77 312.2,153.81 313.28,152.83 314.35,151.84 315.43,150.85 316.5,149.84 317.58,148.83 318.65,147.81 319.72,146.77 320.8,145.73 321.87,144.68 322.95,144.62 324.02,144.56 325.09,144.5 326.17,144.45 327.24,144.39 328.32,144.33 329.39,144.28 330.47,144.22 331.54,144.16 332.61,144.1 333.69,144.05 334.76,143.99 335.84,143.93 336.91,143.87 337.98,143.82 339.06,143.76 340.13,143.7 341.21,143.64 342.28,143.59 343.36,143.53 344.43,143.47 345.5,143.41 346.58,143.36 347.65,143.3 348.73,143.24 349.8,143.19 350.88,143.13 351.95,143.07 353.02,143.01 354.1,142.96 355.17,142.9 356.25,142.84 357.32,142.78 358.39,142.73 359.47,142.67 360.54,142.61 361.62,142.55 362.69,142.5 363.77,142.44 364.84,142.38 365.91,142.32 366.99,142.27 368.06,142.21 369.14,142.15 370.21,142.09 371.29,142.04 372.36,141.98 373.43,141.92 374.51,141.87 375.58,141.81 376.66,141.75 377.73,141.69 378.8,141.64 379.88,141.58 380.95,141.52 382.03,141.46 383.1,141.41 384.18,141.35 385.25,141.29 386.32,141.23 387.4,141.18 388.47,141.12 389.55,141.06 390.62,141 391.69,140.95 392.77,140.89 393.84,140.83 394.92,140.78 395.99,140.72 397.07,140.66 398.14,140.6 399.21,140.55 400.29,140.49 401.36,140.43 402.44,140.37 403.51,140.32 404.59,140.26 405.66,140.2 406.73,140.14 407.81,140.09 408.88,140.03 409.96,139.97 411.03,139.91 412.1,139.86 413.18,139.8 414.25,139.74 415.33,139.68 416.4,139.63 417.48,139.57 418.55,139.51 419.62,139.46 420.7,139.4 421.77,139.34 422.85,139.28 423.92,139.23 425,139.17 426.07,139.11 427.14,139.05 428.22,139 429.29,138.94 430.37,138.88 431.44,138.82 432.51,138.77 433.59,138.71 434.66,138.65 435.74,138.59 436.81,138.54 437.89,138.48 438.96,138.42 440.03,138.37 441.11,138.31 442.18,138.25 443.26,138.19 444.33,138.14 445.4,138.08 446.48,138.02 447.55,137.96 448.63,137.91 449.7,137.85 450.78,137.79 451.85,137.73 452.92,137.68 454,137.62 455.07,137.56 456.15,137.5 457.22,137.45 458.3,137.39 459.37,137.33 460.44,137.28 461.52,137.22 462.59,137.16 463.67,137.1 464.74,137.05 465.81,136.99 466.89,136.93 467.96,136.87 469.04,136.82 470.11,136.76 471.19,136.7 472.26,136.64 473.33,136.59 474.41,136.53 475.48,136.47 476.56,136.41 477.63,136.36 478.71,136.3 479.78,136.24 480.85,136.18 481.93,136.13 483,136.07 484.08,136.01 485.15,135.96 486.22,135.9 487.3,135.84 488.37,135.78 489.45,135.73 490.52,135.67 491.6,135.61 492.67,135.55 493.74,135.5 494.82,135.44 495.89,135.38 496.97,135.32 498.04,135.27 499.11,135.21 500.19,135.15 501.26,135.09 502.34,135.04 503.41,134.98 504.49,134.92 505.56,134.87 506.63,134.81 507.71,134.75 508.78,134.69 509.86,134.64 510.93,134.58 512.01,134.52 513.08,134.46 514.15,134.41 515.23,134.35 516.3,134.29 517.38,134.23 518.45,134.18 519.52,134.12 520.6,134.06 521.67,134 522.75,133.95 523.82,133.89 524.9,133.83 525.97,133.77 527.04,133.72 528.12,133.66 529.19,133.6 530.27,133.55 531.34,133.49 532.41,133.43 533.49,133.37 534.56,133.32 535.64,133.26 536.71,133.2 537.79,133.14 538.86,133.09 539.93,133.03 541.01,132.97 542.08,132.91 543.16,132.86 544.23,132.8 545.31,132.74 546.38,132.68 547.45,132.63 548.53,132.57 549.6,132.51 550.68,132.46 551.75,132.4 552.82,132.34 553.9,132.28 554.97,132.23 556.05,132.17 557.12,132.11 558.2,132.05 559.27,132 560.34,131.94 561.42,131.88 562.49,131.82 563.57,131.77 564.64,131.71 565.72,131.65 566.79,131.59 567.86,131.54 568.94,131.48 570.01,131.42 571.09,131.36 572.16,131.31 573.23,131.25 574.31,131.19 575.38,131.14 576.46,131.08 577.53,131.02 578.61,130.96 579.68,130.91 580.75,130.85 581.83,130.79 582.9,130.73 583.98,130.68 585.05,130.62 586.12,130.56 587.2,130.5 588.27,130.45 589.35,130.39 590.42,130.33 591.5,130.27 592.57,130.22 593.64,130.16 594.72,130.1 595.79,130.05 596.87,129.99 597.94,129.93 599.02,129.87 600.09,129.82 601.16,129.76 602.24,129.7 603.31,129.64 604.39,129.59 605.46,129.53 606.53,129.47 607.61,129.41 608.68,129.36 609.76,129.3 610.83,129.24 611.91,129.18 612.98,129.13 614.05,129.07 615.13,129.01 616.2,128.95 617.28,128.9 618.35,128.84 619.43,128.78 620.5,128.73 621.57,128.67 622.65,128.61 623.72,128.55 624.8,128.5 625.87,128.44 626.94,128.38 628.02,128.32 629.09,128.27 630.17,128.21 631.24,128.15 632.32,128.09 633.39,128.04 634.46,127.98 635.54,127.92 636.61,127.86 637.69,127.81 638.76,127.75 639.84,127.69 640.91,127.64 641.98,127.58 643.06,127.52 644.13,127.46 645.21,127.41 646.28,127.35 647.35,127.29 648.43,127.23 649.5,127.18 650.58,127.12 651.65,127.06 652.73,127 653.8,126.95 654.87,126.89 655.95,126.83 657.02,126.77 658.1,126.72 659.17,126.66 660.24,126.6 661.32,126.54 662.39,126.49 663.47,126.43 664.54,126.37 665.62,126.32 666.69,126.26 667.76,126.2 668.84,126.14 669.91,126.09 670.99,126.03 672.06,125.97 673.14,125.91 674.21,125.86 675.28,125.8 676.36,125.74 677.43,125.68 678.51,125.63 679.58,125.57 680.65,125.51 681.73,125.45 682.8,125.4 683.88,125.34 684.95,125.28 686.03,125.23 687.1,125.17 688.17,125.11 689.25,125.05 690.32,125 691.4,124.94 692.47,124.88 693.55,124.82 694.62,124.77 695.69,124.71 696.77,124.65 697.84,124.59 698.92,124.54 699.99,124.48 701.06,124.42 702.14,124.36 703.21,124.31 704.29,124.25 705.36,124.19 706.44,124.13 707.51,124.08 708.58,124.02 709.66,123.96 710.73,123.91 711.81,123.85 712.88,123.79 713.95,123.73 715.03,123.68 716.1,123.62 717.18,123.56 718.25,123.5 719.33,123.45 720.4,123.39 721.47,123.33 722.55,123.27 723.62,123.22 724.7,123.16 725.77,123.1 726.85,123.04 727.92,122.99 728.99,122.93 730.07,122.87 731.14,122.82 732.22,122.76 733.29,122.7 734.36,122.64 735.44,122.59 736.51,122.53 737.59,122.47 738.66,122.41 739.74,122.36 740.81,122.3 741.88,122.24 742.96,122.18 744.03,122.13 745.11,122.07 746.18,122.01 747.26,121.95 748.33,121.9 749.4,121.84 750.48,121.78 751.55,121.72 752.63,121.67 753.7,121.61 754.77,121.55 755.85,121.5 756.92,121.44 758,121.38 759.07,121.32 760.15,121.27 761.22,121.21 762.29,121.15 763.37,121.09 764.44,121.04 765.52,120.98 766.59,120.92 767.66,120.86 768.74,120.81 769.81,120.75 770.89,120.69 771.96,120.63 773.04,120.58 774.11,120.52" fill="none" stroke="#ff8a8a" stroke-width="1"/>
<g fill="#fff" stroke="#f23f41" stroke-width="1.3"><circle cx="237.01" cy="198.51" r="6.3"/><circle cx="238.08" cy="198.2" r="6.3"/><circle cx="239.16" cy="197.88" r="6.3"/><circle cx="240.23" cy="197.55" r="6.3"/><circle cx="241.31" cy="197.21" r="6.3"/><circle cx="242.38" cy="196.86" r="6.3"/><circle cx="243.46" cy="196.51" r="6.3"/><circle cx="244.53" cy="196.14" r="6.3"/><circle cx="245.6" cy="195.76" r="6.3"/><circle cx="246.68" cy="195.37" r="6.3"/><circle cx="247.75" cy="194.98" r="6.3"/><circle cx="248.83" cy="194.57" r="6.3"/><circle cx="249.9" cy="194.16" r="6.3"/><circle cx="250.97" cy="193.73" r="6.3"/><circle cx="252.05" cy="193.3" r="6.3"/><circle cx="253.12" cy="192.85" r="6.3"/><circle cx="254.2" cy="192.4" r="6.3"/><circle cx="255.27" cy="191.94" r="6.3"/><circle cx="256.35" cy="191.47" r="6.3"/><circle cx="257.42" cy="190.98" r="6.3"/><circle cx="258.49" cy="190.49" r="6.3"/><circle cx="259.57" cy="189.99" r="6.3"/><circle cx="260.64" cy="189.48" r="6.3"/><circle cx="261.72" cy="188.96" r="6.3"/><circle cx="262.79" cy="188.43" r="6.3"/><circle cx="263.87" cy="187.89" r="6.3"/><circle cx="264.94" cy="187.35" r="6.3"/><circle cx="266.01" cy="186.79" r="6.3"/><circle cx="267.09" cy="186.22" r="6.3"/><circle cx="268.16" cy="185.64" r="6.3"/><circle cx="269.24" cy="185.06" r="6.3"/><circle cx="270.31" cy="184.46" r="6.3"/><circle cx="271.38" cy="183.86" r="6.3"/><circle cx="272.46" cy="183.24" r="6.3"/><circle cx="273.53" cy="182.62" r="6.3"/><circle cx="274.61" cy="181.98" r="6.3"/><circle cx="275.68" cy="181.34" r="6.3"/><circle cx="276.76" cy="180.69" r="6.3"/><circle cx="277.83" cy="180.02" r="6.3"/><circle cx="278.9" cy="179.35" r="6.3"/><circle cx="279.98" cy="178.67" r="6.3"/><circle cx="281.05" cy="177.98" r="6.3"/><circle cx="282.13" cy="177.28" r="6.3"/><circle cx="283.2" cy="176.57" r="6.3"/><circle cx="284.27" cy="175.85" r="6.3"/><circle cx="285.35" cy="175.12" r="6.3"/><circle cx="286.42" cy="174.38" r="6.3"/><circle cx="287.5" cy="173.63" r="6.3"/><circle cx="288.57" cy="172.88" r="6.3"/><circle cx="289.65" cy="172.11" r="6.3"/><circle cx="290.72" cy="171.33" r="6.3"/><circle cx="291.79" cy="170.55" r="6.3"/><circle cx="292.87" cy="169.75" r="6.3"/><circle cx="293.94" cy="168.95" r="6.3"/><circle cx="295.02" cy="168.13" r="6.3"/><circle cx="296.09" cy="167.31" r="6.3"/><circle cx="297.17" cy="166.47" r="6.3"/><circle cx="298.24" cy="165.63" r="6.3"/><circle cx="299.31" cy="164.78" r="6.3"/><circle cx="300.39" cy="163.92" r="6.3"/><circle cx="301.46" cy="163.04" r="6.3"/><circle cx="302.54" cy="162.16" r="6.3"/><circle cx="303.61" cy="161.27" r="6.3"/><circle cx="304.68" cy="160.37" r="6.3"/><circle cx="305.76" cy="159.46" r="6.3"/><circle cx="306.83" cy="158.54" r="6.3"/><circle cx="307.91" cy="157.61" r="6.3"/><circle cx="308.98" cy="156.68" r="6.3"/><circle cx="310.06" cy="155.73" r="6.3"/><circle cx="311.13" cy="154.77" r="6.3"/><circle cx="312.2" cy="153.81" r="6.3"/><circle cx="313.28" cy="152.83" r="6.3"/><circle cx="314.35" cy="151.84" r="6.3"/><circle cx="315.43" cy="150.85" r="6.3"/><circle cx="316.5" cy="149.84" r="6.3"/><circle cx="317.58" cy="148.83" r="6.3"/><circle cx="318.65" cy="147.81" r="6.3"/><circle cx="319.72" cy="146.77" r="6.3"/><circle cx="320.8" cy="145.73" r="6.3"/><circle cx="321.87" cy="144.68" r="6.3"/><circle cx="322.95" cy="144.62" r="6.3"/><circle cx="324.02" cy="144.56" r="6.3"/><circle cx="325.09" cy="144.5" r="6.3"/><circle cx="326.17" cy="144.45" r="6.3"/><circle cx="327.24" cy="144.39" r="6.3"/><circle cx="328.32" cy="144.33" r="6.3"/><circle cx="329.39" cy="144.28" r="6.3"/><circle cx="330.47" cy="144.22" r="6.3"/><circle cx="331.54" cy="144.16" r="6.3"/><circle cx="332.61" cy="144.1" r="6.3"/><circle cx="333.69" cy="144.05" r="6.3"/><circle cx="334.76" cy="143.99" r="6.3"/><circle cx="335.84" cy="143.93" r="6.3"/><circle cx="336.91" cy="143.87" r="6.3"/><circle cx="337.98" cy="143.82" r="6.3"/><circle cx="339.06" cy="143.76" r="6.3"/><circle cx="340.13" cy="143.7" r="6.3"/><circle cx="341.21" cy="143.64" r="6.3"/><circle cx="342.28" cy="143.59" r="6.3"/><circle cx="343.36" cy="143.53" r="6.3"/><circle cx="344.43" cy="143.47" r="6.3"/><circle cx="345.5" cy="143.41" r="6.3"/><circle cx="346.58" cy="143.36" r="6.3"/><circle cx="347.65" cy="143.3" r="6.3"/><circle cx="348.73" cy="143.24" r="6.3"/><circle cx="349.8" cy="143.19" r="6.3"/><circle cx="350.88" cy="143.13" r="6.3"/><circle cx="351.95" cy="143.07" r="6.3"/><circle cx="353.02" cy="143.01" r="6.3"/><circle cx="354.1" cy="142.96" r="6.3"/><circle cx="355.17" cy="142.9" r="6.3"/><circle cx="356.25" cy="142.84" r="6.3"/><circle cx="357.32" cy="142.78" r="6.3"/><circle cx="358.39" cy="142.73" r="6.3"/><circle cx="359.47" cy="142.67" r="6.3"/><circle cx="360.54" cy="142.61" r="6.3"/><circle cx="361.62" cy="142.55" r="6.3"/><circle cx="362.69" cy="142.5" r="6.3"/><circle cx="363.77" cy="142.44" r="6.3"/><circle cx="364.84" cy="142.38" r="6.3"/><circle cx="365.91" cy="142.32" r="6.3"/><circle cx="366.99" cy="142.27" r="6.3"/><circle cx="368.06" cy="142.21" r="6.3"/><circle cx="369.14" cy="142.15" r="6.3"/><circle cx="370.21" cy="142.09" r="6.3"/><circle cx="371.29" cy="142.04" r="6.3"/><circle cx="372.36" cy="141.98" r="6.3"/><circle cx="373.43" cy="141.92" r="6.3"/><circle cx="374.51" cy="141.87" r="6.3"/><circle cx="375.58" cy="141.81" r="6.3"/><circle cx="376.66" cy="141.75" r="6.3"/><circle cx="377.73" cy="141.69" r="6.3"/><circle cx="378.8" cy="141.64" r="6.3"/><circle cx="379.88" cy="141.58" r="6.3"/><circle cx="380.95" cy="141.52" r="6.3"/><circle cx="382.03" cy="141.46" r="6.3"/><circle cx="383.1" cy="141.41" r="6.3"/><circle cx="384.18" cy="141.35" r="6.3"/><circle cx="385.25" cy="141.29" r="6.3"/><circle cx="386.32" cy="141.23" r="6.3"/><circle cx="387.4" cy="141.18" r="6.3"/><circle cx="388.47" cy="141.12" r="6.3"/><circle cx="389.55" cy="141.06" r="6.3"/><circle cx="390.62" cy="141" r="6.3"/><circle cx="391.69" cy="140.95" r="6.3"/><circle cx="392.77" cy="140.89" r="6.3"/><circle cx="393.84" cy="140.83" r="6.3"/><circle cx="394.92" cy="140.78" r="6.3"/><circle cx="395.99" cy="140.72" r="6.3"/><circle cx="397.07" cy="140.66" r="6.3"/><circle cx="398.14" cy="140.6" r="6.3"/><circle cx="399.21" cy="140.55" r="6.3"/><circle cx="400.29" cy="140.49" r="6.3"/><circle cx="401.36" cy="140.43" r="6.3"/><circle cx="402.44" cy="140.37" r="6.3"/><circle cx="403.51" cy="140.32" r="6.3"/><circle cx="404.59" cy="140.26" r="6.3"/><circle cx="405.66" cy="140.2" r="6.3"/><circle cx="406.73" cy="140.14" r="6.3"/><circle cx="407.81" cy="140.09" r="6.3"/><circle cx="408.88" cy="140.03" r="6.3"/><circle cx="409.96" cy="139.97" r="6.3"/><circle cx="411.03" cy="139.91" r="6.3"/><circle cx="412.1" cy="139.86" r="6.3"/><circle cx="413.18" cy="139.8" r="6.3"/><circle cx="414.25" cy="139.74" r="6.3"/><circle cx="415.33" cy="139.68" r="6.3"/><circle cx="416.4" cy="139.63" r="6.3"/><circle cx="417.48" cy="139.57" r="6.3"/><circle cx="418.55" cy="139.51" r="6.3"/><circle cx="419.62" cy="139.46" r="6.3"/><circle cx="420.7" cy="139.4" r="6.3"/><circle cx="421.77" cy="139.34" r="6.3"/><circle cx="422.85" cy="139.28" r="6.3"/><circle cx="423.92" cy="139.23" r="6.3"/><circle cx="425" cy="139.17" r="6.3"/><circle cx="426.07" cy="139.11" r="6.3"/><circle cx="427.14" cy="139.05" r="6.3"/><circle cx="428.22" cy="139" r="6.3"/><circle cx="429.29" cy="138.94" r="6.3"/><circle cx="430.37" cy="138.88" r="6.3"/><circle cx="431.44" cy="138.82" r="6.3"/><circle cx="432.51" cy="138.77" r="6.3"/><circle cx="433.59" cy="138.71" r="6.3"/><circle cx="434.66" cy="138.65" r="6.3"/><circle cx="435.74" cy="138.59" r="6.3"/><circle cx="436.81" cy="138.54" r="6.3"/><circle cx="437.89" cy="138.48" r="6.3"/><circle cx="438.96" cy="138.42" r="6.3"/><circle cx="440.03" cy="138.37" r="6.3"/><circle cx="441.11" cy="138.31" r="6.3"/><circle cx="442.18" cy="138.25" r="6.3"/><circle cx="443.26" cy="138.19" r="6.3"/><circle cx="444.33" cy="138.14" r="6.3"/><circle cx="445.4" cy="138.08" r="6.3"/><circle cx="446.48" cy="138.02" r="6.3"/><circle cx="447.55" cy="137.96" r="6.3"/><circle cx="448.63" cy="137.91" r="6.3"/><circle cx="449.7" cy="137.85" r="6.3"/><circle cx="450.78" cy="137.79" r="6.3"/><circle cx="451.85" cy="137.73" r="6.3"/><circle cx="452.92" cy="137.68" r="6.3"/><circle cx="454" cy="137.62" r="6.3"/><circle cx="455.07" cy="137.56" r="6.3"/><circle cx="456.15" cy="137.5" r="6.3"/><circle cx="457.22" cy="137.45" r="6.3"/><circle cx="458.3" cy="137.39" r="6.3"/><circle cx="459.37" cy="137.33" r="6.3"/><circle cx="460.44" cy="137.28" r="6.3"/><circle cx="461.52" cy="137.22" r="6.3"/><circle cx="462.59" cy="137.16" r="6.3"/><circle cx="463.67" cy="137.1" r="6.3"/><circle cx="464.74" cy="137.05" r="6.3"/><circle cx="465.81" cy="136.99" r="6.3"/><circle cx="466.89" cy="136.93" r="6.3"/><circle cx="467.96" cy="136.87" r="6.3"/><circle cx="469.04" cy="136.82" r="6.3"/><circle cx="470.11" cy="136.76" r="6.3"/><circle cx="471.19" cy="136.7" r="6.3"/><circle cx="472.26" cy="136.64" r="6.3"/><circle cx="473.33" cy="136.59" r="6.3"/><circle cx="474.41" cy="136.53" r="6.3"/><circle cx="475.48" cy="136.47" r="6.3"/><circle cx="476.56" cy="136.41" r="6.3"/><circle cx="477.63" cy="136.36" r="6.3"/><circle cx="478.71" cy="136.3" r="6.3"/><circle cx="479.78" cy="136.24" r="6.3"/><circle cx="480.85" cy="136.18" r="6.3"/><circle cx="481.93" cy="136.13" r="6.3"/><circle cx="483" cy="136.07" r="6.3"/><circle cx="484.08" cy="136.01" r="6.3"/><circle cx="485.15" cy="135.96" r="6.3"/><circle cx="486.22" cy="135.9" r="6.3"/><circle cx="487.3" cy="135.84" r="6.3"/><circle cx="488.37" cy="135.78" r="6.3"/><circle cx="489.45" cy="135.73" r="6.3"/><circle cx="490.52" cy="135.67" r="6.3"/><circle cx="491.6" cy="135.61" r="6.3"/><circle cx="492.67" cy="135.55" r="6.3"/><circle cx="493.74" cy="135.5" r="6.3"/><circle cx="494.82" cy="135.44" r="6.3"/><circle cx="495.89" cy="135.38" r="6.3"/><circle cx="496.97" cy="135.32" r="6.3"/><circle cx="498.04" cy="135.27" r="6.3"/><circle cx="499.11" cy="135.21" r="6.3"/><circle cx="500.19" cy="135.15" r="6.3"/><circle cx="501.26" cy="135.09" r="6.3"/><circle cx="502.34" cy="135.04" r="6.3"/><circle cx="503.41" cy="134.98" r="6.3"/><circle cx="504.49" cy="134.92" r="6.3"/><circle cx="505.56" cy="134.87" r="6.3"/><circle cx="506.63" cy="134.81" r="6.3"/><circle cx="507.71" cy="134.75" r="6.3"/><circle cx="508.78" cy="134.69" r="6.3"/><circle cx="509.86" cy="134.64" r="6.3"/><circle cx="510.93" cy="134.58" r="6.3"/><circle cx="512.01" cy="134.52" r="6.3"/><circle cx="513.08" cy="134.46" r="6.3"/><circle cx="514.15" cy="134.41" r="6.3"/><circle cx="515.23" cy="134.35" r="6.3"/><circle cx="516.3" cy="134.29" r="6.3"/><circle cx="517.38" cy="134.23" r="6.3"/><circle cx="518.45" cy="134.18" r="6.3"/><circle cx="519.52" cy="134.12" r="6.3"/><circle cx="520.6" cy="134.06" r="6.3"/><circle cx="521.67" cy="134" r="6.3"/><circle cx="522.75" cy="133.95" r="6.3"/><circle cx="523.82" cy="133.89" r="6.3"/><circle cx="524.9" cy="133.83" r="6.3"/><circle cx="525.97" cy="133.77" r="6.3"/><circle cx="527.04" cy="133.72" r="6.3"/><circle cx="528.12" cy="133.66" r="6.3"/><circle cx="529.19" cy="133.6" r="6.3"/><circle cx="530.27" cy="133.55" r="6.3"/><circle cx="531.34" cy="133.49" r="6.3"/><circle cx="532.41" cy="133.43" r="6.3"/><circle cx="533.49" cy="133.37" r="6.3"/><circle cx="534.56" cy="133.32" r="6.3"/><circle cx="535.64" cy="133.26" r="6.3"/><circle cx="536.71" cy="133.2" r="6.3"/><circle cx="537.79" cy="133.14" r="6.3"/><circle cx="538.86" cy="133.09" r="6.3"/><circle cx="539.93" cy="133.03" r="6.3"/><circle cx="541.01" cy="132.97" r="6.3"/><circle cx="542.08" cy="132.91" r="6.3"/><circle cx="543.16" cy="132.86" r="6.3"/><circle cx="544.23" cy="132.8" r="6.3"/><circle cx="545.31" cy="132.74" r="6.3"/><circle cx="546.38" cy="132.68" r="6.3"/><circle cx="547.45" cy="132.63" r="6.3"/><circle cx="548.53" cy="132.57" r="6.3"/><circle cx="549.6" cy="132.51" r="6.3"/><circle cx="550.68" cy="132.46" r="6.3"/><circle cx="551.75" cy="132.4" r="6.3"/><circle cx="552.82" cy="132.34" r="6.3"/><circle cx="553.9" cy="132.28" r="6.3"/><circle cx="554.97" cy="132.23" r="6.3"/><circle cx="556.05" cy="132.17" r="6.3"/><circle cx="557.12" cy="132.11" r="6.3"/><circle cx="558.2" cy="132.05" r="6.3"/><circle cx="559.27" cy="132" r="6.3"/><circle cx="560.34" cy="131.94" r="6.3"/><circle cx="561.42" cy="131.88" r="6.3"/><circle cx="562.49" cy="131.82" r="6.3"/><circle cx="563.57" cy="131.77" r="6.3"/><circle cx="564.64" cy="131.71" r="6.3"/><circle cx="565.72" cy="131.65" r="6.3"/><circle cx="566.79" cy="131.59" r="6.3"/><circle cx="567.86" cy="131.54" r="6.3"/><circle cx="568.94" cy="131.48" r="6.3"/><circle cx="570.01" cy="131.42" r="6.3"/><circle cx="571.09" cy="131.36" r="6.3"/><circle cx="572.16" cy="131.31" r="6.3"/><circle cx="573.23" cy="131.25" r="6.3"/><circle cx="574.31" cy="131.19" r="6.3"/><circle cx="575.38" cy="131.14" r="6.3"/><circle cx="576.46" cy="131.08" r="6.3"/><circle cx="577.53" cy="131.02" r="6.3"/><circle cx="578.61" cy="130.96" r="6.3"/><circle cx="579.68" cy="130.91" r="6.3"/><circle cx="580.75" cy="130.85" r="6.3"/><circle cx="581.83" cy="130.79" r="6.3"/><circle cx="582.9" cy="130.73" r="6.3"/><circle cx="583.98" cy="130.68" r="6.3"/><circle cx="585.05" cy="130.62" r="6.3"/><circle cx="586.12" cy="130.56" r="6.3"/><circle cx="587.2" cy="130.5" r="6.3"/><circle cx="588.27" cy="130.45" r="6.3"/><circle cx="589.35" cy="130.39" r="6.3"/><circle cx="590.42" cy="130.33" r="6.3"/><circle cx="591.5" cy="130.27" r="6.3"/><circle cx="592.57" cy="130.22" r="6.3"/><circle cx="593.64" cy="130.16" r="6.3"/><circle cx="594.72" cy="130.1" r="6.3"/><circle cx="595.79" cy="130.05" r="6.3"/><circle cx="596.87" cy="129.99" r="6.3"/><circle cx="597.94" cy="129.93" r="6.3"/><circle cx="599.02" cy="129.87" r="6.3"/><circle cx="600.09" cy="129.82" r="6.3"/><circle cx="601.16" cy="129.76" r="6.3"/><circle cx="602.24" cy="129.7" r="6.3"/><circle cx="603.31" cy="129.64" r="6.3"/><circle cx="604.39" cy="129.59" r="6.3"/><circle cx="605.46" cy="129.53" r="6.3"/><circle cx="606.53" cy="129.47" r="6.3"/><circle cx="607.61" cy="129.41" r="6.3"/><circle cx="608.68" cy="129.36" r="6.3"/><circle cx="609.76" cy="129.3" r="6.3"/><circle cx="610.83" cy="129.24" r="6.3"/><circle cx="611.91" cy="129.18" r="6.3"/><circle cx="612.98" cy="129.13" r="6.3"/><circle cx="614.05" cy="129.07" r="6.3"/><circle cx="615.13" cy="129.01" r="6.3"/><circle cx="616.2" cy="128.95" r="6.3"/><circle cx="617.28" cy="128.9" r="6.3"/><circle cx="618.35" cy="128.84" r="6.3"/><circle cx="619.43" cy="128.78" r="6.3"/><circle cx="620.5" cy="128.73" r="6.3"/><circle cx="621.57" cy="128.67" r="6.3"/><circle cx="622.65" cy="128.61" r="6.3"/><circle cx="623.72" cy="128.55" r="6.3"/><circle cx="624.8" cy="128.5" r="6.3"/><circle cx="625.87" cy="128.44" r="6.3"/><circle cx="626.94" cy="128.38" r="6.3"/><circle cx="628.02" cy="128.32" r="6.3"/><circle cx="629.09" cy="128.27" r="6.3"/><circle cx="630.17" cy="128.21" r="6.3"/><circle cx="631.24" cy="128.15" r="6.3"/><circle cx="632.32" cy="128.09" r="6.3"/><circle cx="633.39" cy="128.04" r="6.3"/><circle cx="634.46" cy="127.98" r="6.3"/><circle cx="635.54" cy="127.92" r="6.3"/><circle cx="636.61" cy="127.86" r="6.3"/><circle cx="637.69" cy="127.81" r="6.3"/><circle cx="638.76" cy="127.75" r="6.3"/><circle cx="639.84" cy="127.69" r="6.3"/><circle cx="640.91" cy="127.64" r="6.3"/><circle cx="641.98" cy="127.58" r="6.3"/><circle cx="643.06" cy="127.52" r="6.3"/><circle cx="644.13" cy="127.46" r="6.3"/><circle cx="645.21" cy="127.41" r="6.3"/><circle cx="646.28" cy="127.35" r="6.3"/><circle cx="647.35" cy="127.29" r="6.3"/><circle cx="648.43" cy="127.23" r="6.3"/><circle cx="649.5" cy="127.18" r="6.3"/><circle cx="650.58" cy="127.12" r="6.3"/><circle cx="651.65" cy="127.06" r="6.3"/><circle cx="652.73" cy="127" r="6.3"/><circle cx="653.8" cy="126.95" r="6.3"/><circle cx="654.87" cy="126.89" r="6.3"/><circle cx="655.95" cy="126.83" r="6.3"/><circle cx="657.02" cy="126.77" r="6.3"/><circle cx="658.1" cy="126.72" r="6.3"/><circle cx="659.17" cy="126.66" r="6.3"/><circle cx="660.24" cy="126.6" r="6.3"/><circle cx="661.32" cy="126.54" r="6.3"/><circle cx="662.39" cy="126.49" r="6.3"/><circle cx="663.47" cy="126.43" r="6.3"/><circle cx="664.54" cy="126.37" r="6.3"/><circle cx="665.62" cy="126.32" r="6.3"/><circle cx="666.69" cy="126.26" r="6.3"/><circle cx="667.76" cy="126.2" r="6.3"/><circle cx="668.84" cy="126.14" r="6.3"/><circle cx="669.91" cy="126.09" r="6.3"/><circle cx="670.99" cy="126.03" r="6.3"/><circle cx="672.06" cy="125.97" r="6.3"/><circle cx="673.14" cy="125.91" r="6.3"/><circle cx="674.21" cy="125.86" r="6.3"/><circle cx="675.28" cy="125.8" r="6.3"/><circle cx="676.36" cy="125.74" r="6.3"/><circle cx="677.43" cy="125.68" r="6.3"/><circle cx="678.51" cy="125.63" r="6.3"/><circle cx="679.58" cy="125.57" r="6.3"/><circle cx="680.65" cy="125.51" r="6.3"/><circle cx="681.73" cy="125.45" r="6.3"/><circle cx="682.8" cy="125.4" r="6.3"/><circle cx="683.88" cy="125.34" r="6.3"/><circle cx="684.95" cy="125.28" r="6.3"/><circle cx="686.03" cy="125.23" r="6.3"/><circle cx="687.1" cy="125.17" r="6.3"/><circle cx="688.17" cy="125.11" r="6.3"/><circle cx="689.25" cy="125.05" r="6.3"/><circle cx="690.32" cy="125" r="6.3"/><circle cx="691.4" cy="124.94" r="6.3"/><circle cx="692.47" cy="124.88" r="6.3"/><circle cx="693.55" cy="124.82" r="6.3"/><circle cx="694.62" cy="124.77" r="6.3"/><circle cx="695.69" cy="124.71" r="6.3"/><circle cx="696.77" cy="124.65" r="6.3"/><circle cx="697.84" cy="124.59" r="6.3"/><circle cx="698.92" cy="124.54" r="6.3"/><circle cx="699.99" cy="124.48" r="6.3"/><circle cx="701.06" cy="124.42" r="6.3"/><circle cx="702.14" cy="124.36" r="6.3"/><circle cx="703.21" cy="124.31" r="6.3"/><circle cx="704.29" cy="124.25" r="6.3"/><circle cx="705.36" cy="124.19" r="6.3"/><circle cx="706.44" cy="124.13" r="6.3"/><circle cx="707.51" cy="124.08" r="6.3"/><circle cx="708.58" cy="124.02" r="6.3"/><circle cx="709.66" cy="123.96" r="6.3"/><circle cx="710.73" cy="123.91" r="6.3"/><circle cx="711.81" cy="123.85" r="6.3"/><circle cx="712.88" cy="123.79" r="6.3"/><circle cx="713.95" cy="123.73" r="6.3"/><circle cx="715.03" cy="123.68" r="6.3"/><circle cx="716.1" cy="123.62" r="6.3"/><circle cx="717.18" cy="123.56" r="6.3"/><circle cx="718.25" cy="123.5" r="6.3"/><circle cx="719.33" cy="123.45" r="6.3"/><circle cx="720.4" cy="123.39" r="6.3"/><circle cx="721.47" cy="123.33" r="6.3"/><circle cx="722.55" cy="123.27" r="6.3"/><circle cx="723.62" cy="123.22" r="6.3"/><circle cx="724.7" cy="123.16" r="6.3"/><circle cx="725.77" cy="123.1" r="6.3"/><circle cx="726.85" cy="123.04" r="6.3"/><circle cx="727.92" cy="122.99" r="6.3"/><circle cx="728.99" cy="122.93" r="6.3"/><circle cx="730.07" cy="122.87" r="6.3"/><circle cx="731.14" cy="122.82" r="6.3"/><circle cx="732.22" cy="122.76" r="6.3"/><circle cx="733.29" cy="122.7" r="6.3"/><circle cx="734.36" cy="122.64" r="6.3"/><circle cx="735.44" cy="122.59" r="6.3"/><circle cx="736.51" cy="122.53" r="6.3"/><circle cx="737.59" cy="122.47" r="6.3"/><circle cx="738.66" cy="122.41" r="6.3"/><circle cx="739.74" cy="122.36" r="6.3"/><circle cx="740.81" cy="122.3" r="6.3"/><circle cx="741.88" cy="122.24" r="6.3"/><circle cx="742.96" cy="122.18" r="6.3"/><circle cx="744.03" cy="122.13" r="6.3"/><circle cx="745.11" cy="122.07" r="6.3"/><circle cx="746.18" cy="122.01" r="6.3"/><circle cx="747.26" cy="121.95" r="6.3"/><circle cx="748.33" cy="121.9" r="6.3"/><circle cx="749.4" cy="121.84" r="6.3"/><circle cx="750.48" cy="121.78" r="6.3"/><circle cx="751.55" cy="121.72" r="6.3"/><circle cx="752.63" cy="121.67" r="6.3"/><circle cx="753.7" cy="121.61" r="6.3"/><circle cx="754.77" cy="121.55" r="6.3"/><circle cx="755.85" cy="121.5" r="6.3"/><circle cx="756.92" cy="121.44" r="6.3"/><circle cx="758" cy="121.38" r="6.3"/><circle cx="759.07" cy="121.32" r="6.3"/><circle cx="760.15" cy="121.27" r="6.3"/><circle cx="761.22" cy="121.21" r="6.3"/><circle cx="762.29" cy="121.15" r="6.3"/><circle cx="763.37" cy="121.09" r="6.3"/><circle cx="764.44" cy="121.04" r="6.3"/><circle cx="765.52" cy="120.98" r="6.3"/><circle cx="766.59" cy="120.92" r="6.3"/><circle cx="767.66" cy="120.86" r="6.3"/><circle cx="768.74" cy="120.81" r="6.3"/><circle cx="769.81" cy="120.75" r="6.3"/><circle cx="770.89" cy="120.69" r="6.3"/><circle cx="771.96" cy="120.63" r="6.3"/><circle cx="773.04" cy="120.58" r="6.3"/><circle cx="774.11" cy="120.52" r="6.3"/></g>
<path d="M182.3 653.5H882.5M182.3 91H882.5M183.3 90V654.5M881.5 90V654.5M183.3 653.5V659M183.3 91V96.3M237.01 653.5V664.5M237.01 91V101.7M290.72 653.5V659M290.72 91V96.3M344.43 653.5V664.5M344.43 91V101.7M398.14 653.5V659M398.14 91V96.3M451.85 653.5V664.5M451.85 91V101.7M505.56 653.5V659M505.56 91V96.3M559.27 653.5V664.5M559.27 91V101.7M612.98 653.5V659M612.98 91V96.3M666.69 653.5V664.5M666.69 91V101.7M720.4 653.5V659M720.4 91V96.3M774.11 653.5V664.5M774.11 91V101.7M827.82 653.5V659M827.82 91V96.3M881.53 653.5V664.5M881.53 91V101.7M183.3 653.5H172.3M881.5 653.5H870.8M183.3 623.89H177.8M881.5 623.89H876.2M183.3 594.28H172.3M881.5 594.28H870.8M183.3 564.67H177.8M881.5 564.67H876.2M183.3 535.06H172.3M881.5 535.06H870.8M183.3 505.45H177.8M881.5 505.45H876.2M183.3 475.84H172.3M881.5 475.84H870.8M183.3 446.23H177.8M881.5 446.23H876.2M183.3 416.62H172.3M881.5 416.62H870.8M183.3 387.01H177.8M881.5 387.01H876.2M183.3 357.4H172.3M881.5 357.4H870.8M183.3 327.79H177.8M881.5 327.79H876.2M183.3 298.18H172.3M881.5 298.18H870.8M183.3 268.57H177.8M881.5 268.57H876.2M183.3 238.96H172.3M881.5 238.96H870.8M183.3 209.35H177.8M881.5 209.35H876.2M183.3 179.74H172.3M881.5 179.74H870.8M183.3 150.13H177.8M881.5 150.13H876.2M183.3 120.52H172.3M881.5 120.52H870.8M183.3 90.91H177.8M881.5 90.91H876.2" stroke="#000" stroke-width="2" fill="none"/>
<text transform="translate(237.01 691.1) scale(1 1.04)" font-size="24" text-anchor="middle">0</text>
<text transform="translate(344.43 691.1) scale(1 1.04)" font-size="24" text-anchor="middle">100</text>
<text transform="translate(451.85 691.1) scale(1 1.04)" font-size="24" text-anchor="middle">200</text>
<text transform="translate(559.27 691.1) scale(1 1.04)" font-size="24" text-anchor="middle">300</text>
<text transform="translate(666.69 691.1) scale(1 1.04)" font-size="24" text-anchor="middle">400</text>
<text transform="translate(774.11 691.1) scale(1 1.04)" font-size="24" text-anchor="middle">500</text>
<text transform="translate(881.53 691.1) scale(1 1.04)" font-size="24" text-anchor="middle">600</text>
<text transform="translate(164.4 660.9) scale(1 1.04)" font-size="24" text-anchor="end">22</text>
<text transform="translate(164.4 601.68) scale(1 1.04)" font-size="24" text-anchor="end">24</text>
<text transform="translate(164.4 542.46) scale(1 1.04)" font-size="24" text-anchor="end">26</text>
<text transform="translate(164.4 483.24) scale(1 1.04)" font-size="24" text-anchor="end">28</text>
<text transform="translate(164.4 424.02) scale(1 1.04)" font-size="24" text-anchor="end">30</text>
<text transform="translate(164.4 364.8) scale(1 1.04)" font-size="24" text-anchor="end">32</text>
<text transform="translate(164.4 305.58) scale(1 1.04)" font-size="24" text-anchor="end">34</text>
<text transform="translate(164.4 246.36) scale(1 1.04)" font-size="24" text-anchor="end">36</text>
<text transform="translate(164.4 187.14) scale(1 1.04)" font-size="24" text-anchor="end">38</text>
<text transform="translate(164.4 127.92) scale(1 1.04)" font-size="24" text-anchor="end">40</text>
<text x="532.5" y="735.7" font-size="29.5" text-anchor="middle">Time (min)</text>
<text transform="translate(125.5 372.2) rotate(-90)" x="0" y="0" font-size="29.5" text-anchor="middle">Volumetric Water Content (%)</text>
<rect x="612.1" y="236.55" width="228.35" height="76.15" fill="#fff" stroke="#6e6e6e" stroke-width="1"/>
<path d="M616 257H681" stroke="#a6a6a6" stroke-width="1"/>
<path d="M648.6 248.2L656.1 261H641.1Z" fill="#00ffff" stroke="#555a5a" stroke-width="1"/>
<path d="M616 292.8H681" stroke="#ff8a8a" stroke-width="1"/>
<circle cx="648.6" cy="292.9" r="6.4" fill="#fff" stroke="#f54a4a" stroke-width="1.2"/>
<text x="690" y="267" font-size="29">Experiment</text>
<text x="690" y="303" font-size="29">Numerical</text>
</svg></body></html>
